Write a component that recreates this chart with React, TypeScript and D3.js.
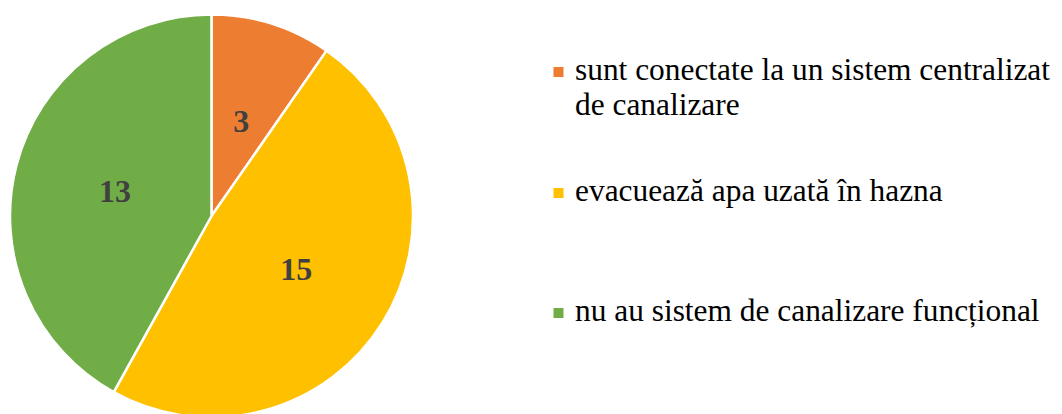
import React from "react";
import * as d3 from "d3";

const categories = [
  ["sunt conectate la un sistem centralizat", "de canalizare"],
  ["evacuează apa uzată în hazna"],
  ["nu au sistem de canalizare funcțional"],
];
const values = [3, 15, 13];
const colors = ["#ED7D31", "#FFC000", "#70AD47"];
const legendY = [72, 193, 313];

export default function App() {
  const W = 1062, H = 414;
  const cx = 211.5, cy = 216, r = 201.5;
  const pie = d3.pie<number>().sort(null).value((d) => d)(values);
  const arc = d3.arc<d3.PieArcDatum<number>>().innerRadius(0).outerRadius(r);
  const labelArc = d3.arc<d3.PieArcDatum<number>>().innerRadius(0).outerRadius(r * 0.99);
  return (
    <svg width={W} height={H} style={{ position: "absolute", left: 0, top: 0, background: "#fff" }}>
      {categories.map((lines, i) => (
        <g key={i}>
          <rect x={553.5} y={legendY[i] - 5} width={10} height={10} fill={colors[i]} />
          {lines.map((t, j) => (
            <text key={j} x={575} y={legendY[i] + 8 + j * 35}
              fontFamily="Liberation Serif" fontSize={31.4} fill="#000">
              {t}
            </text>
          ))}
        </g>
      ))}
      <g transform={`translate(${cx},${cy})`}>
        {pie.map((p, i) => (
          <path key={i} d={arc(p) || ""} fill={colors[i]} stroke="#fff" strokeWidth={2.5} strokeLinejoin="round" />
        ))}
        {pie.map((p, i) => {
          const [x, y] = labelArc.centroid(p);
          return (
            <text key={i} x={x} y={y + 11} textAnchor="middle"
              fontFamily="Liberation Serif" fontWeight="bold" fontSize={32} fill="#404040">
              {values[i]}
            </text>
          );
        })}
      </g>
    </svg>
  );
}
